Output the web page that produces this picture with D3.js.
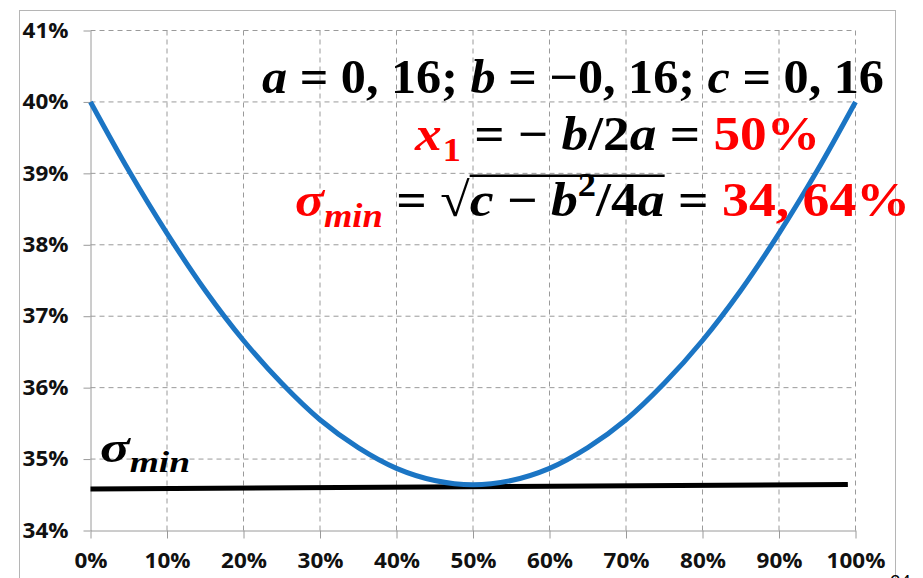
<!DOCTYPE html>
<html>
<head>
<meta charset="utf-8">
<script src="https://cdn.jsdelivr.net/npm/d3@7"></script>
<style>
  body { margin: 0; background: #fff; }
  svg { display: block; }
</style>
</head>
<body>
<div id="container"></div>
<script>
/* CONSTANTS AND GLOBALS */
const width = 923;
const height = 578;

/* DATA */
const xPct = [0, 5, 10, 15, 20, 25, 30, 35, 40, 45, 50, 55, 60, 65, 70, 75, 80, 85, 90, 95, 100];
const sigmaPct = [40.00, 39.04, 38.16, 37.36, 36.66, 36.06, 35.55, 35.16, 34.87, 34.70, 34.64,
                  34.70, 34.87, 35.16, 35.55, 36.06, 36.66, 37.36, 38.16, 39.04, 40.00];
const minLineX = [0, 99];
const minLineY = [34.58, 34.645];
const xTicks = [0, 10, 20, 30, 40, 50, 60, 70, 80, 90, 100];
const yTicks = [34, 35, 36, 37, 38, 39, 40, 41];

const svg = d3.select("#container")
  .append("svg")
  .attr("width", width)
  .attr("height", height);

// chart frame
svg.append("rect")
  .attr("x", 19.5).attr("y", 10.5)
  .attr("width", 876).attr("height", 600)
  .attr("fill", "none")
  .attr("stroke", "#b5b5b5");

/* SCALES */
const xScale = d3.scaleLinear().domain([0, 100]).range([90.5, 855.5]);
const yScale = d3.scaleLinear().domain([34, 41]).range([530.5, 30.5]);

// gridlines
svg.append("g")
  .selectAll("line")
  .data(xTicks.slice(1))
  .join("line")
  .attr("x1", d => xScale(d)).attr("x2", d => xScale(d))
  .attr("y1", yScale(34)).attr("y2", yScale(41))
  .attr("stroke", "#9a9a9a")
  .attr("stroke-dasharray", "5,4");

svg.append("g")
  .selectAll("line")
  .data(yTicks.slice(1))
  .join("line")
  .attr("x1", xScale(0)).attr("x2", xScale(100))
  .attr("y1", d => yScale(d)).attr("y2", d => yScale(d))
  .attr("stroke", "#9a9a9a")
  .attr("stroke-dasharray", "5,4");

/* AXES */
const yAxis = svg.append("g")
  .attr("transform", `translate(${xScale(0)},0)`)
  .call(d3.axisLeft(yScale).tickValues(yTicks).tickFormat(d => d + "%").tickSize(7).tickSizeOuter(0).tickPadding(16));

const xAxis = svg.append("g")
  .attr("transform", `translate(0,${yScale(34)})`)
  .call(d3.axisBottom(xScale).tickValues(xTicks).tickFormat(d => d + "%").tickSize(8).tickSizeOuter(0).tickPadding(15));

[yAxis, xAxis].forEach(ax => {
  ax.attr("font-family", "'Open Sans', sans-serif").attr("font-size", 21);
  ax.select(".domain").attr("stroke", "#9a9a9a");
  ax.selectAll(".tick line").attr("stroke", "#9a9a9a");
  ax.selectAll("text")
    .attr("fill", "#111")
    .attr("font-weight", "bold");
});

// the source labels are drawn a little wide
yAxis.selectAll(".tick text")
  .attr("x", 0)
  .attr("transform", "translate(-22,0) scale(1.07,1)");
xAxis.selectAll(".tick text")
  .attr("transform", "scale(1.07,1)");

/* LINES */
const line = d3.line()
  .x(d => xScale(d[0]))
  .y(d => yScale(d[1]));

svg.append("path")
  .datum(d3.zip(minLineX, minLineY))
  .attr("d", line)
  .attr("fill", "none")
  .attr("stroke", "#000")
  .attr("stroke-width", 5);

svg.append("path")
  .datum(d3.zip(xPct, sigmaPct))
  .attr("d", line.curve(d3.curveCatmullRom))
  .attr("fill", "none")
  .attr("stroke", "#1b75c4")
  .attr("stroke-width", 5)
  .attr("stroke-linejoin", "round");

/* FORMULAS */
const RED = "#ff0000";
const mathFont = "'Liberation Serif', 'DejaVu Serif', serif";

// lays segments out one after another, then stretches the group to the target width
function formula(segs, x0, x1, baseline, size) {
  const g = svg.append("g");
  let cx = 0;
  let over = null;
  segs.forEach(s => {
    const fs = s.sub || s.sup ? size * 0.68 : size;
    const dy = s.sub ? size * 0.22 : s.sup ? -size * 0.42 : 0;
    const t = g.append("text")
      .attr("x", cx)
      .attr("y", dy)
      .attr("fill", s.red ? RED : "#000")
      .style("font-family", mathFont)
      .style("font-weight", "bold")
      .style("font-style", s.i ? "italic" : "normal")
      .style("font-size", fs + "px")
      .style("white-space", "pre")
      .text(s.t);
    const w = t.node().getComputedTextLength();
    if (s.over) {
      if (!over) over = [cx, cx + w];
      else over[1] = cx + w;
    }
    cx += w + (s.gap || 0);
  });
  if (over) {
    g.append("line")
      .attr("x1", over[0]).attr("x2", over[1])
      .attr("y1", -size * 0.84).attr("y2", -size * 0.84)
      .attr("stroke", "#000").attr("stroke-width", 2.5);
  }
  const k = (x1 - x0) / cx;
  g.attr("transform", `translate(${x0},${baseline}) scale(${k},1)`);
  return g;
}

formula([
  { t: "a", i: 1 }, { t: " = 0, 16; " },
  { t: "b", i: 1 }, { t: " = −0, 16; " },
  { t: "c", i: 1 }, { t: " = 0, 16" }
], 262, 884, 93, 48);

formula([
  { t: "x", i: 1, red: 1, gap: 1 }, { t: "1", red: 1, sub: 1 },
  { t: " = − " }, { t: "b", i: 1 }, { t: "/2" }, { t: "a", i: 1 },
  { t: " = " }, { t: "50%", red: 1 }
], 415, 820, 150, 48);

formula([
  { t: "σ", i: 1, red: 1 }, { t: "min", i: 1, red: 1, sub: 1 },
  { t: " = √" },
  { t: "c", i: 1, over: 1 }, { t: " − ", over: 1 }, { t: "b", i: 1, over: 1 },
  { t: "2", sup: 1, over: 1 }, { t: "/4", over: 1 }, { t: "a", i: 1, over: 1 },
  { t: " = " }, { t: "34, 64%", red: 1 }
], 295, 910, 216, 48);

formula([
  { t: "σ", i: 1 }, { t: "min", i: 1, sub: 1 }
], 100, 190, 462, 44);

// page number, mostly below the bottom edge as in the source
svg.append("text")
  .attr("x", 890).attr("y", 588)
  .style("font-family", "Lato, sans-serif")
  .style("font-size", "18px")
  .text("24");
</script>
</body>
</html>
